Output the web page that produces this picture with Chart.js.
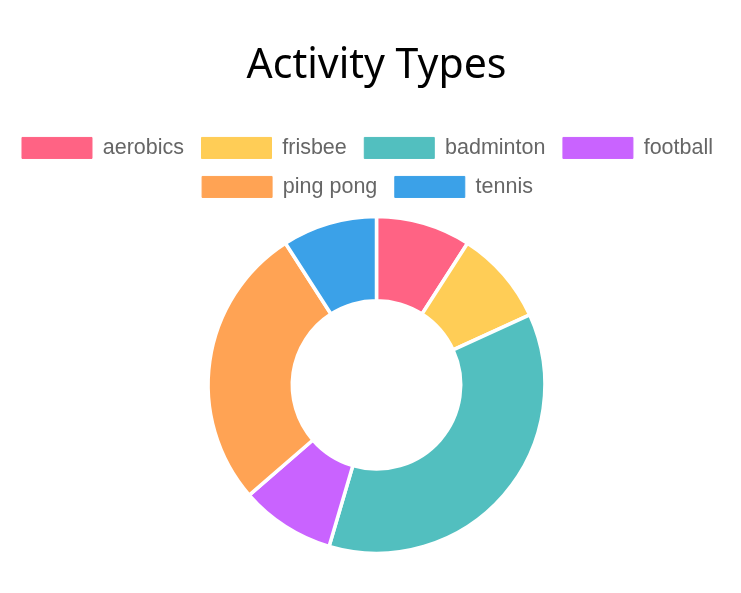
<!DOCTYPE html>
<html>
<head>
<meta charset="utf-8">
<script src="https://cdn.jsdelivr.net/npm/chart.js@4"></script>
<style>
html,body{margin:0;padding:0;background:#fff;}
#wrap{width:741px;height:593px;}
</style>
</head>
<body>
<div id="wrap"><canvas id="c" width="741" height="593"></canvas></div>
<script>
const categories = ["aerobics", "frisbee", "badminton", "football", "ping pong", "tennis"];
const values = [1, 1, 4, 1, 3, 1];
const colors = ["#ff6384", "#ffcd56", "#52bfbf", "#c963ff", "#ffa354", "#3ba1e8"];
const titleText = "Activity Types";

const legendTweak = {
  id: "legendTweak",
  afterInit(chart) {
    const lg = chart.legend;
    const orig = lg.fit;
    lg.fit = function () { orig.call(this); this.height += 7; };
  },
  afterLayout(chart) {
    const lg = chart.legend;
    lg.left -= 9; lg.right -= 9;
  }
};

new Chart(document.getElementById("c"), {
  type: "doughnut",
  data: {
    labels: categories,
    datasets: [{
      data: values,
      backgroundColor: colors,
      borderColor: "#ffffff",
      borderWidth: 3.5
    }]
  },
  options: {
    responsive: false,
    animation: false,
    cutout: "50%",
    layout: { padding: { top: 32, bottom: 38, left: 12, right: 0 } },
    plugins: {
      title: {
        display: true,
        text: titleText,
        color: "#000",
        font: { family: "'Noto Sans', sans-serif", size: 41, weight: "normal" },
        padding: { top: 10, bottom: 28.5 }
      },
      legend: {
        position: "top",
        labels: {
          boxWidth: 70,
          boxHeight: 21,
          padding: 17.5,
          color: "#666",
          font: { family: "'Liberation Sans', Arial, sans-serif", size: 21.5 },
          generateLabels(chart) {
            const items = Chart.overrides.doughnut.plugins.legend.labels.generateLabels(chart);
            return items.map(it => Object.assign(it, { strokeStyle: it.fillStyle, lineWidth: 1 }));
          }
        }
      },
      tooltip: { enabled: false }
    }
  },
  plugins: [legendTweak]
});
</script>
</body>
</html>
